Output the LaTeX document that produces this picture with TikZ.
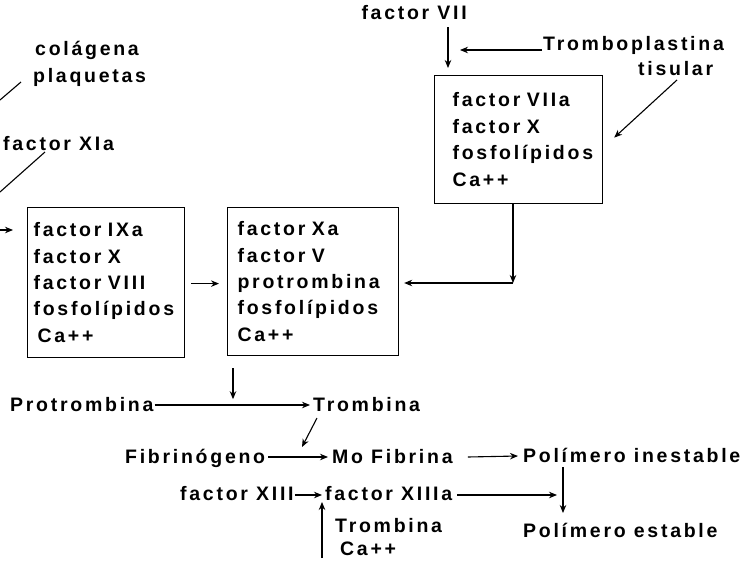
\documentclass[tikz,border=0pt]{standalone}
\usepackage{fontspec}
\newfontfamily\lbl{Liberation Sans Bold}[LetterSpace=14]
\newcommand\lblfont{\lbl\fontsize{19.5}{26.4}\selectfont}
\usetikzlibrary{arrows.meta,calc}
\tikzset{
  lbl/.style={font=\lblfont, inner sep=0pt, anchor=base west},
  box/.style={draw, line width=1.2pt, font=\lblfont, align=left, anchor=north west, inner ysep=0pt},
  arr/.style={line width=1.1pt, -{Stealth[length=8pt,width=6.5pt]}},
  ln/.style={line width=1.1pt}
}
\begin{document}
\begin{tikzpicture}[x=1pt,y=-1pt]
\useasboundingbox (0,0) rectangle (750,563);
% labels top-left
\node[lbl] (col) at (35,55) {colágena};
\node[lbl] (plq) at (33,82) {plaquetas};
\node[lbl] (f11) at (3,150) {factor XIa};
% top-right
\node[lbl, anchor=base east] (f7) at (467,19) {factor VII};
\node[lbl] (trp) at (543,50) {Tromboplastina};
\node[lbl] (tis) at (638,75) {tisular};
% boxes
\node[box, minimum width=157, minimum height=150, inner xsep=6pt, text width=145pt] (b1) at (27,207)
  {factor IXa\\factor X\\factor VIII\\fosfolípidos\\\hspace*{4pt}Ca++};
\node[box, minimum width=171, minimum height=148, inner xsep=10pt, text width=151pt] (b2) at (227,207)
  {factor Xa\\factor V\\protrombina\\fosfolípidos\\Ca++};
\node[box, minimum width=168, minimum height=128, inner xsep=18pt, text width=132pt] (b3) at (434,75)
  {factor VIIa\\factor X\\fosfolípidos\\Ca++};
% bottom
\node[lbl] (pro) at (10,411) {Protrombina};
\node[lbl] (tr1) at (313,411) {Trombina};
\node[lbl] (fib) at (125,463) {Fibrinógeno};
\node[lbl] (mof) at (332,463) {Mo Fibrina};
\node[lbl] (pin) at (523,462) {Polímero inestable};
\node[lbl] (f13) at (180,500) {factor XIII};
\node[lbl] (f13a) at (325,500) {factor XIIIa};
\node[lbl] (tr2) at (335,532) {Trombina};
\node[lbl] (ca) at (340,555) {Ca++};
\node[lbl] (pes) at (523,537) {Polímero estable};
% free ends
\coordinate (l1a) at (0,100);
\coordinate (l1b) at (21,82);
\coordinate (l2a) at (0,192);
\coordinate (l2b) at (45,152);
\coordinate (inl) at (0,230);
\coordinate (vt) at (460,50);
\coordinate (cr) at (513,283);
% connectors
\draw[ln] (l1a) -- (l1b);
\draw[ln] (l2a) -- (l2b);
\draw[arr] (inl) -- ($(b1.north west)+(-14,23)$);
\draw[arr] ($(f7.base east)+(-19,8)$) -- ($(b3.north west)+(14,-7)$);
\draw[arr] ($(trp.base west)+(-1,0)$) -- (vt);
\draw[arr] ($(tis.base west)+(39,5)$) -- ($(b3.east)+(11,-2)$);
\draw[arr] ($(b3.south west)+(79,0)$) -- (cr);
\draw[arr, shorten >=5pt] (cr) -- (cr -| b2.east);
\draw[arr, shorten <=6pt, shorten >=8pt] ($(b1.east)+(0,1)$) -- ($(b1.east -| b2.west)+(0,1)$);
\draw[arr] ($(b2.south west)+(6,12)$) -- ($(b2.south west)+(6,43)$);
\draw[arr] ($(pro.base east)+(1,-6)$) -- ($(tr1.base west)+(-3,-6)$);
\draw[arr] ($(tr1.base west)+(4,7)$) -- ($(mof.base west)+(-30,-16)$);
\draw[arr] ($(fib.base east)+(3,-6)$) -- ($(mof.base west)+(-4,-6)$);
\draw[arr] ($(mof.base east)+(15,-6)$) -- ($(pin.base west)+(-5,-6)$);
\draw[arr] ($(f13.base east)+(1,-5)$) -- ($(f13a.base west)+(-3,-5)$);
\draw[arr] ($(f13a.base east)+(5,-5)$) -- ($(pin.base west)+(34,33)$);
\draw[arr] ($(pin.base west)+(40,5)$) -- ($(pes.base west)+(40,-24)$);
\draw[arr] ($(ca.base west)+(-18,3)$) -- ($(f13a.base west)+(-3,2)$);
\end{tikzpicture}
\end{document}
